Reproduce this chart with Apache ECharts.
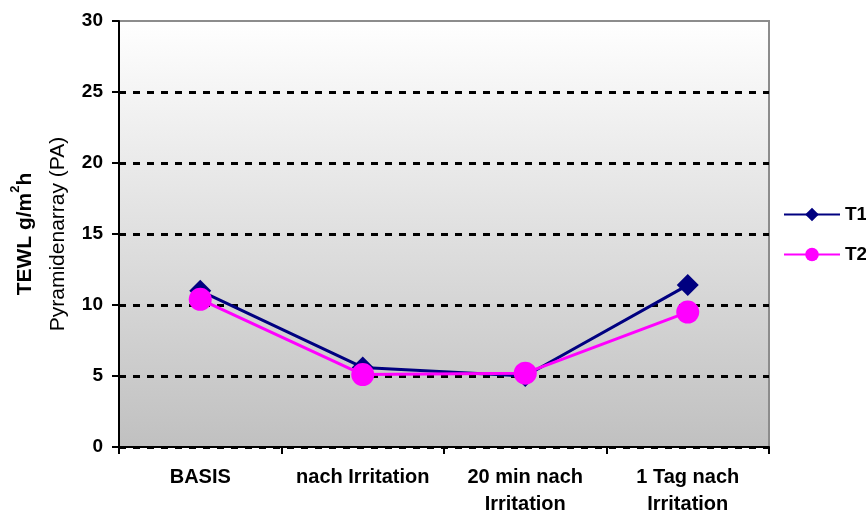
<!DOCTYPE html>
<html>
<head>
<meta charset="utf-8">
<script src="https://cdn.jsdelivr.net/npm/echarts@6/dist/echarts.min.js"></script>
<style>
  html, body { margin: 0; padding: 0; background: #fff; }
  #chart { width: 866px; height: 516px; }
</style>
</head>
<body>
<div id="chart"></div>
<script>
// Measurement time points
const categories = ['BASIS', 'nach Irritation', '20 min nach\nIrritation', '1 Tag nach\nIrritation'];
// TEWL values per test field
const t1Values = [11.0, 5.6, 5.0, 11.4];
const t2Values = [10.4, 5.1, 5.2, 9.5];
const seriesNames = ['T1', 'T2'];

const FONT = '"Liberation Sans", Arial, sans-serif';

const chart = echarts.init(document.getElementById('chart'), null, { renderer: 'canvas' });

chart.setOption({
  animation: false,
  backgroundColor: '#ffffff',
  grid: {
    left: 119, top: 21, width: 650, height: 426,
    containLabel: false,
    outerBoundsMode: 'none',
    show: true,
    borderColor: '#8c8c8c',
    borderWidth: 2,
    backgroundColor: {
      type: 'linear', x: 0, y: 0, x2: 0, y2: 1,
      colorStops: [
        { offset: 0, color: '#ffffff' },
        { offset: 1, color: '#c0c0c0' }
      ]
    }
  },
  legend: {
    orient: 'vertical',
    left: 778, top: 200,
    itemWidth: 56, itemHeight: 17,
    itemGap: 21,
    textStyle: { fontFamily: FONT, fontWeight: 'bold', fontSize: 19, color: '#000' },
    data: seriesNames
  },
  xAxis: {
    type: 'category',
    data: categories,
    boundaryGap: true,
    axisLine: { lineStyle: { color: '#000', width: 2 } },
    axisTick: { show: true, length: 7, lineStyle: { color: '#000', width: 2 } },
    axisLabel: {
      fontFamily: FONT, fontWeight: 'bold', fontSize: 20, color: '#000',
      margin: 17, lineHeight: 27, interval: 0
    }
  },
  yAxis: {
    type: 'value',
    min: 0, max: 30, interval: 5,
    name: '{b|TEWL g/m}{sup|2}{b|h}\n{n|Pyramidenarray (PA)}',
    nameLocation: 'middle',
    nameRotate: 90,
    nameGap: 44,
    nameTextStyle: {
      rich: {
        b: { fontFamily: FONT, fontWeight: 'bold', fontSize: 21, color: '#000', lineHeight: 33 },
        sup: { fontFamily: FONT, fontWeight: 'bold', fontSize: 13, color: '#000', lineHeight: 22, verticalAlign: 'top' },
        n: { fontFamily: FONT, fontSize: 21, color: '#000', lineHeight: 33 }
      }
    },
    axisLine: { show: true, lineStyle: { color: '#000', width: 2 } },
    axisTick: { show: true, length: 7, lineStyle: { color: '#000', width: 2 } },
    axisLabel: { fontFamily: FONT, fontWeight: 'bold', fontSize: 19, color: '#000', margin: 16 },
    splitLine: {
      show: true,
      showMaxLine: false,
      lineStyle: { color: '#000', width: 3, type: [7, 7] }
    }
  },
  series: [
    {
      name: seriesNames[0],
      type: 'line',
      data: t1Values,
      symbol: 'diamond',
      symbolSize: 22,
      itemStyle: { color: '#000080' },
      lineStyle: { color: '#000080', width: 3 },
      z: 2
    },
    {
      name: seriesNames[1],
      type: 'line',
      data: t2Values,
      symbol: 'circle',
      symbolSize: 23,
      itemStyle: { color: '#ff00ff' },
      lineStyle: { color: '#ff00ff', width: 3 },
      z: 3
    }
  ]
});
</script>
</body>
</html>
